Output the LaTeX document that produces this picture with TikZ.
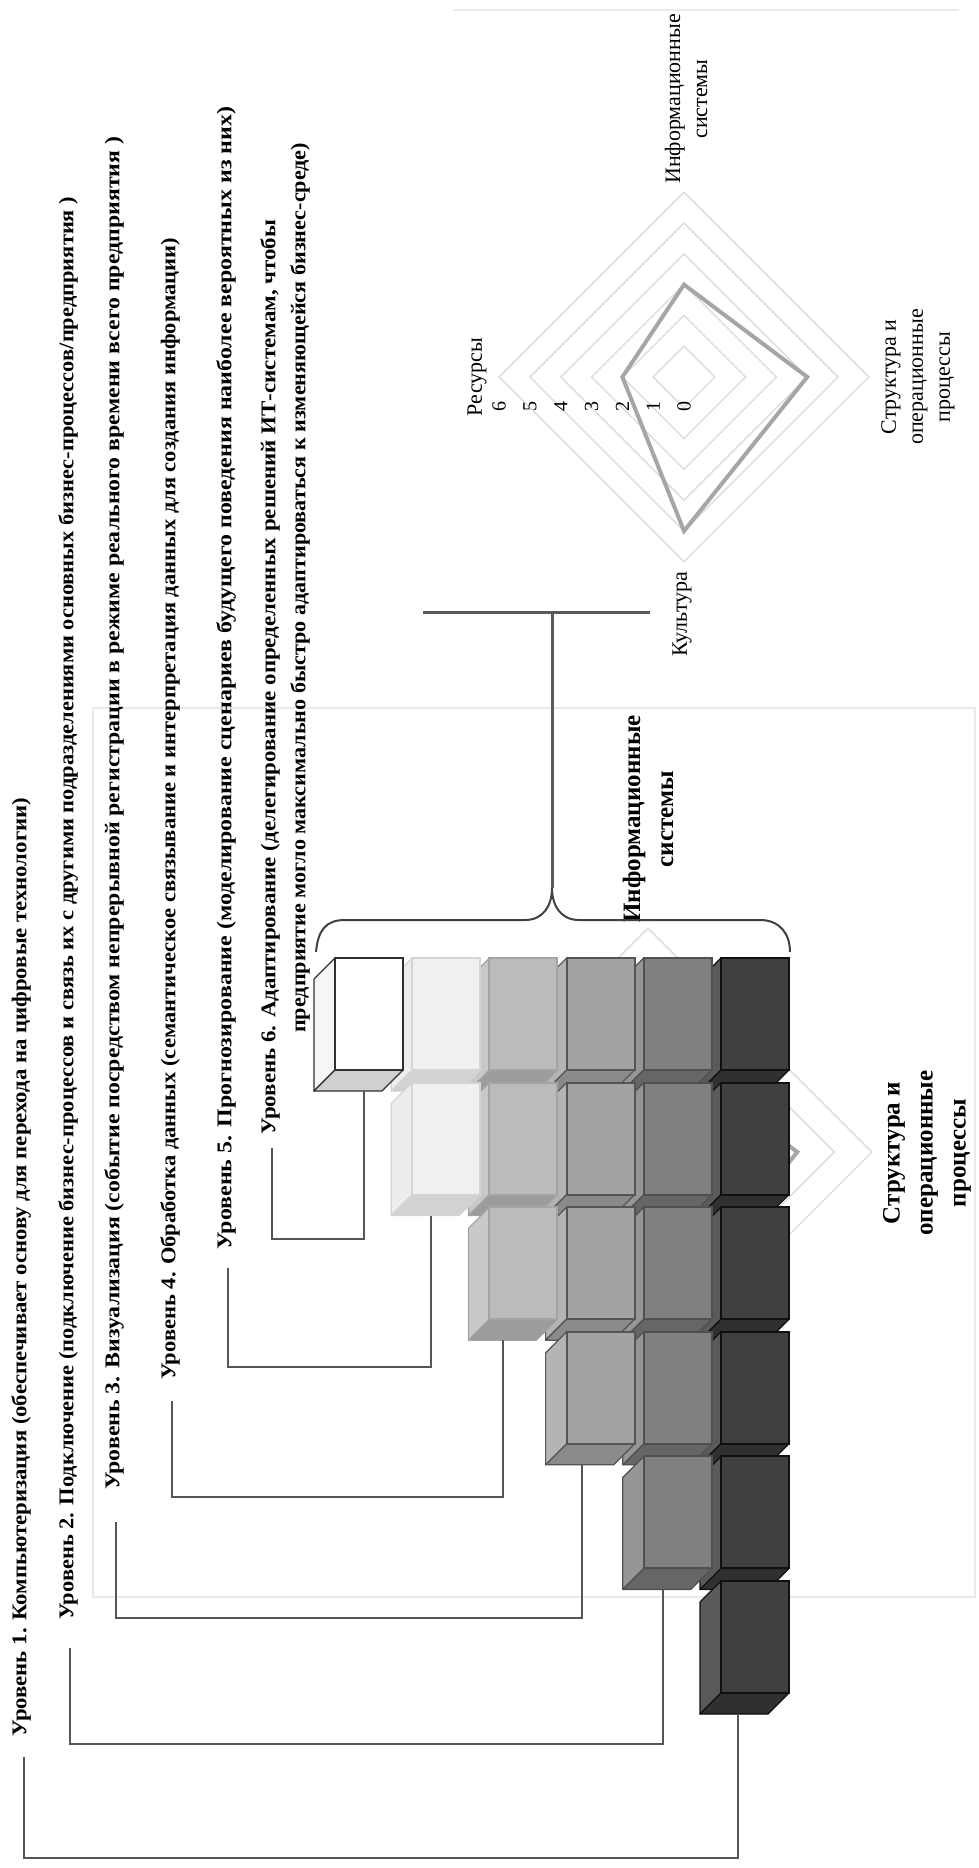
\documentclass[tikz,border=0pt]{standalone}
\usepackage{fontspec}
\setmainfont{Liberation Serif}
\usepackage{graphicx}
% chart and frame greys
\definecolor{gridgray}{HTML}{DEDEDE}
\definecolor{seriesgray}{HTML}{A6A6A6}
\definecolor{framegray}{HTML}{EAEAEA}
\definecolor{linkgray}{HTML}{555555}
\definecolor{teegray}{HTML}{5A5A5A}
\definecolor{bracegray}{HTML}{404040}
% cube colours per column: front, left side, bottom, edge
\definecolor{cf0}{HTML}{FFFFFF}\definecolor{cs0}{HTML}{F6F6F6}\definecolor{cb0}{HTML}{D0D0D0}\definecolor{ce0}{HTML}{303030}
\definecolor{cf1}{HTML}{F0F0F0}\definecolor{cs1}{HTML}{EDEDED}\definecolor{cb1}{HTML}{D2D2D2}\definecolor{ce1}{HTML}{D4D4D4}
\definecolor{cf2}{HTML}{BBBBBB}\definecolor{cs2}{HTML}{C8C8C8}\definecolor{cb2}{HTML}{9C9C9C}\definecolor{ce2}{HTML}{A4A4A4}
\definecolor{cf3}{HTML}{A3A3A3}\definecolor{cs3}{HTML}{B4B4B4}\definecolor{cb3}{HTML}{8A8A8A}\definecolor{ce3}{HTML}{555555}
\definecolor{cf4}{HTML}{808080}\definecolor{cs4}{HTML}{969696}\definecolor{cb4}{HTML}{666666}\definecolor{ce4}{HTML}{505050}
\definecolor{cf5}{HTML}{404040}\definecolor{cs5}{HTML}{5A5A5A}\definecolor{cb5}{HTML}{303030}\definecolor{ce5}{HTML}{101010}
\begin{document}
\begin{tikzpicture}[x=1pt,y=-1pt,
  levtext/.style={rotate=90,anchor=west,inner sep=0pt,font=\fontsize{21}{25}\selectfont\bfseries},
  axlabel/.style={rotate=90,align=center,inner sep=0pt,font=\fontsize{22}{27}\selectfont},
  biglabel/.style={rotate=90,align=center,inner sep=0pt,font=\fontsize{25}{33}\selectfont\bfseries},
  tick/.style={rotate=90,inner sep=0pt,font=\fontsize{20}{24}\selectfont},
  grid/.style={draw=gridgray,line width=1.5pt},
  series/.style={draw=seriesgray,line width=4pt,line join=miter},
  link/.style={draw=linkgray,line width=2.5pt},
  tee/.style={draw=teegray,line width=3pt},
  bracestyle/.style={draw=bracegray,line width=2pt},
  frameline/.style={draw=framegray,line width=2pt}
]
\useasboundingbox (0,0) rectangle (978,1868);

% chart frames
\draw[frameline] (453,10) -- (959,10);
\draw[frameline] (93,708) rectangle (975,1597);

% small radar chart
\foreach \r in {1,...,6}
  \draw[grid] (684,{377-30.8*\r}) -- ({684+30.8*\r},377) -- (684,{377+30.8*\r}) -- ({684-30.8*\r},377) -- cycle;
\draw[series] (684,{377-3*30.8}) -- ({684+4*30.8},377) -- (684,{377+5*30.8}) -- ({684-2*30.8},377) -- cycle;
\foreach \v in {0,...,6}
  \node[tick] (tk\v) at ({684-30.8*\v},406) {\v};
\node[axlabel] (axis-is) at (686,99) {Информационные\\системы};
\node[axlabel] (axis-sp) at (918,377) {Структура и\\операционные\\процессы};
\node[axlabel] (axis-cu) at (682,614) {Культура};
\node[axlabel] (axis-re) at (477,377) {Ресурсы};

% large radar chart (mostly covered by the cubes)
\foreach \r in {1,...,6}
  \draw[grid] (648,{1152-37.3*\r}) -- ({648+37.3*\r},1152) -- (648,{1152+37.3*\r}) -- ({648-37.3*\r},1152) -- cycle;
\draw[series] (648,{1152-3*37.3}) -- ({648+4*37.3},1152) -- (648,{1152+5*37.3}) -- ({648-2*37.3},1152) -- cycle;
\node[biglabel] (big-is) at (648,819) {Информационные\\системы};
\node[biglabel] (big-sp) at (927,1153) {Структура и\\операционные\\процессы};

% staircase of cubes: rows top to bottom, columns right to left
\foreach \j in {0,...,5}{
  \foreach \i in {5,4,3,2,1,0}{
    \ifnum\i<\j\else
      \pgfmathsetmacro\X{335+77.2*\i}
      \pgfmathsetmacro\Y{958+124.6*\j}
      \pgfmathsetmacro\Yb{\Y+112}
      \filldraw[fill=cs\i,draw=ce\i,line width=1.2pt,line join=round]
        (\X,\Y) -- ++(-21,21) -- ++(0,112) -- ++(21,-21) -- cycle;
      \filldraw[fill=cb\i,draw=ce\i,line width=1.2pt,line join=round]
        (\X,\Yb) -- ++(-21,21) -- ++(68,0) -- ++(21,-21) -- cycle;
      \filldraw[fill=cf\i,draw=ce\i,line width=2pt]
        (\X,\Y) rectangle ++(68,112);
    \fi
  }
}

% brace over the top row and the bar above it
\coordinate (tip) at (552,888);
\coordinate (tbar) at (552,612);
\coordinate (tl) at (423,612);
\coordinate (tr) at (650,612);
\draw[bracestyle] (316,952) .. controls (318,930) and (326,920) .. (345,920) -- (525,920)
  .. controls (543,920) and (552,906) .. (tip)
  .. controls (552,906) and (561,920) .. (579,920) -- (760,920)
  .. controls (780,920) and (790,934) .. (790,952);
\draw[tee] (tl) -- (tr);
\draw[tee] (tip) -- (tbar);

% level captions
\node[levtext] (t1) at (21,1737) {\resizebox{939pt}{\height}{Уровень 1. Компьютеризация (обеспечивает основу для перехода на цифровые технологии)}};
\node[levtext] (t2) at (68,1620) {\resizebox{1423pt}{\height}{Уровень 2. Подключение (подключение бизнес-процессов и связь их с другими подразделениями основных бизнес-процессов/предприятия )}};
\node[levtext] (t3) at (114,1490) {\resizebox{1353pt}{\height}{Уровень 3. Визуализация (событие посредством непрерывной регистрации в режиме реального времени всего предприятия )}};
\node[levtext] (t4) at (170,1380) {\resizebox{1142pt}{\height}{Уровень 4. Обработка данных (семантическое связывание и интерпретация данных для создания информации)}};
\node[levtext] (t5) at (226,1250) {\resizebox{1143pt}{\height}{Уровень 5. Прогнозирование (моделирование сценариев будущего поведения наиболее вероятных из них)}};
\node[levtext] (t6a) at (270,1135) {\resizebox{915pt}{\height}{Уровень 6. Адаптирование (делегирование определенных решений ИТ-системам, чтобы}};
\node[levtext] (t6b) at (300,1033) {\resizebox{890pt}{\height}{предприятие могло максимально быстро адаптироваться к изменяющейся бизнес-среде)}};

% connector ends under the bottom cube of each level and below each caption
\coordinate (b6) at (364,1091); \coordinate (h6) at (272,1239); \coordinate (e6) at (272,1148);
\coordinate (b5) at (431,1216); \coordinate (h5) at (228,1367); \coordinate (e5) at (228,1268);
\coordinate (b4) at (503,1340); \coordinate (h4) at (172,1497); \coordinate (e4) at (172,1401);
\coordinate (b3) at (582,1465); \coordinate (h3) at (116,1618); \coordinate (e3) at (116,1522);
\coordinate (b2) at (663,1589); \coordinate (h2) at (70,1744);  \coordinate (e2) at (70,1648);
\coordinate (b1) at (738,1714); \coordinate (h1) at (24,1858);  \coordinate (e1) at (24,1757);
\foreach \k in {1,...,6}
  \draw[link] (b\k) |- (h\k) -- (e\k);
\end{tikzpicture}
\end{document}
